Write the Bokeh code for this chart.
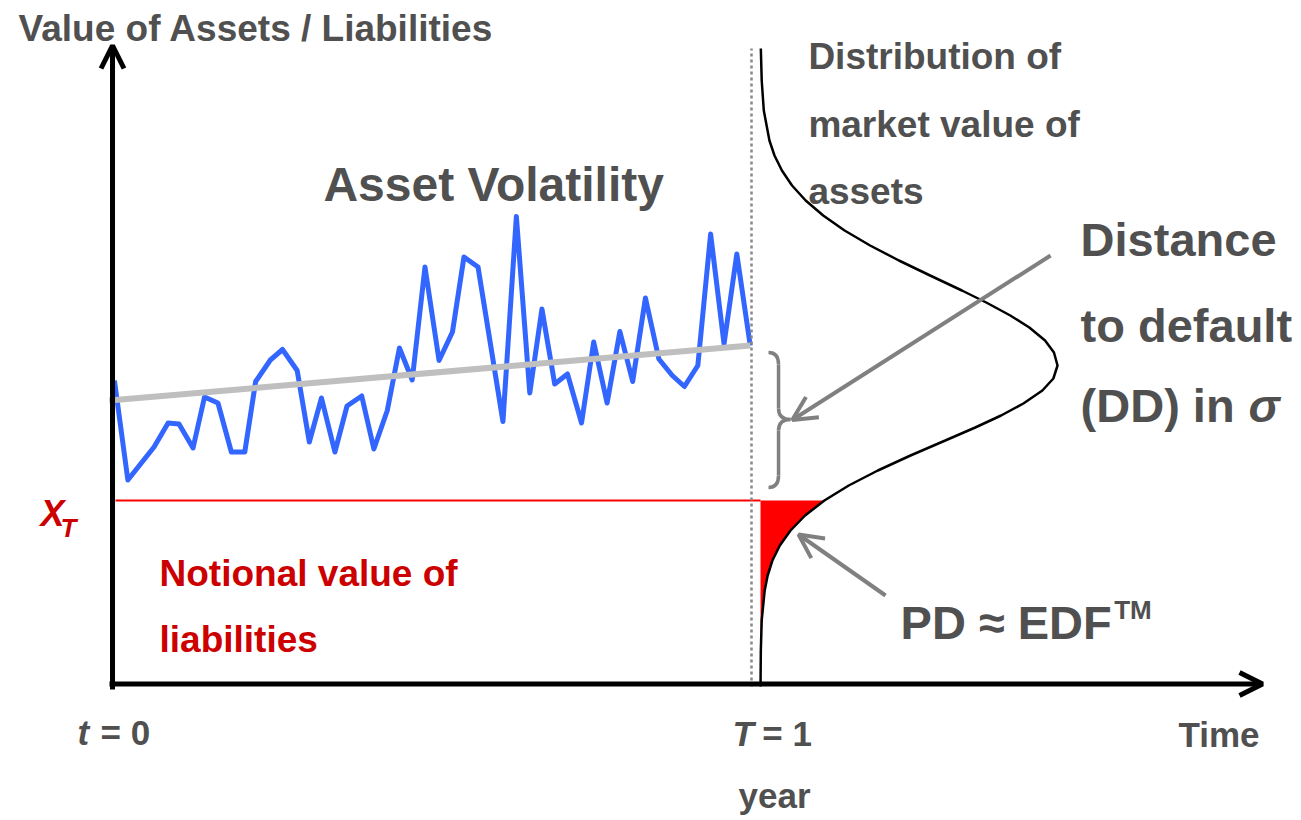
from bokeh.plotting import figure
from bokeh.models import Range1d, Arrow, OpenHead
from bokeh.core.properties import value
from bokeh.embed import file_html
from bokeh.resources import INLINE

# ---------------- data ----------------
# asset value path: time in years (0 .. T=1), value in arbitrary units
path_time = [0.003, 0.024, 0.065, 0.087, 0.104, 0.126, 0.144, 0.165, 0.186, 0.207,
             0.224, 0.247, 0.266, 0.289, 0.308, 0.327, 0.348, 0.367, 0.390, 0.409,
             0.430, 0.449, 0.469, 0.489, 0.511, 0.532, 0.550, 0.572, 0.611, 0.632,
             0.653, 0.672, 0.692, 0.712, 0.734, 0.753, 0.774, 0.794, 0.814, 0.834,
             0.855, 0.876, 0.895, 0.916, 0.936, 0.957, 0.977, 0.998]
path_value = [61.2, 41.3, 47.9, 52.7, 52.5, 47.7, 57.9, 56.7, 46.9, 46.9,
              61.0, 65.3, 67.4, 63.2, 48.9, 57.7, 46.9, 56.1, 58.1, 47.5,
              55.2, 67.7, 61.3, 83.9, 65.2, 70.9, 85.9, 83.9, 53.0, 94.0,
              58.7, 75.5, 60.5, 62.5, 52.7, 68.9, 56.7, 71.0, 61.0, 77.7,
              65.5, 62.2, 60.0, 64.2, 90.5, 68.5, 86.5, 68.2]

# trend of the asset value
trend_time = [-0.005, 0.998]
trend_value = [57.2, 68.2]

# default point (notional value of liabilities)
liability_value = 37.2
horizon = 1.0

# distribution of market value of assets at T (relative density)
dist_value = [127.6, 121.2, 115.2, 109.2, 106.2, 103.2, 100.2, 97.2, 94.2, 91.2,
              88.2, 85.2, 82.2, 79.2, 76.8, 74.2, 71.8, 69.2, 66.8, 64.2,
              61.6, 59.2, 56.6, 54.2, 51.8, 49.2, 46.2, 43.2, 40.2, 37.2,
              34.2, 31.2, 28.2, 25.2, 22.2, 19.2, 13.2, 7.2, 0.0]
dist_density = [0.001, 0.004, 0.011, 0.030, 0.047, 0.072, 0.106, 0.152, 0.211, 0.283,
                0.369, 0.466, 0.571, 0.678, 0.760, 0.841, 0.905, 0.958, 0.988, 1.000,
                0.986, 0.949, 0.885, 0.810, 0.723, 0.622, 0.505, 0.395, 0.297, 0.215,
                0.150, 0.101, 0.065, 0.040, 0.024, 0.014, 0.004, 0.001, 0.0]

# ---------------- styling constants ----------------
FONT = "Liberation Sans"
GREY_TXT = "#505050"
RED_TXT = "#cc0000"
DIST_BASE = 1.0141     # where the density curve starts (time units)
DIST_SCALE = 0.4648    # width of the density peak (time units)
PX_PER_UNIT_Y = 5.0    # vertical pixels per value unit
BASELINE_FIX = 0.38    # em fraction to lift texts onto their baseline

p = figure(width=1301, height=820, output_backend="svg", toolbar_location=None,
           x_range=Range1d(-0.1753, 1.8607), y_range=Range1d(-26.8, 137.2),
           x_axis_type=None, y_axis_type=None, min_border=0,
           background_fill_color="white", border_fill_color="white")
p.outline_line_color = None
p.grid.visible = False

# density curve and red tail (PD)
dist_x = [DIST_BASE + d * DIST_SCALE for d in dist_density]
tail_y = [v for v in dist_value if v <= liability_value]
tail_x = [x for x, v in zip(dist_x, dist_value) if v <= liability_value]
p.harea(y=tail_y, x1=[DIST_BASE] * len(tail_y), x2=tail_x, fill_color="#ff0000")
p.line(dist_x, dist_value, line_color="black", line_width=2.5)

# asset path, trend, liabilities
p.line(path_time, path_value, line_color="#3366ff", line_width=5, line_join="round")
p.line(trend_time, trend_value, line_color="#bfbfbf", line_width=6)
p.line([0.0047, DIST_BASE], [liability_value, liability_value], line_color="#ff0000", line_width=2)

# horizon dotted line
p.line([horizon, horizon], [0, 127.6], line_color="#888888", line_width=2.5, line_dash="3 3")

# brace for distance to default
bx0, bx1, bx2 = 1.0266, 1.0423, 1.0610
p.quadratic(x0=[bx0, bx1, bx2, bx1], y0=[66.8, 55.6, 53.4, 42.2],
            x1=[bx1, bx2, bx1, bx0], y1=[64.4, 53.4, 51.2, 39.8],
            cx=[bx1, bx1, bx1, bx1], cy=[66.8, 53.4, 53.4, 39.8],
            line_color="#808080", line_width=3.5)
p.segment(x0=[bx1, bx1], y0=[64.4, 51.2], x1=[bx1, bx1], y1=[55.6, 42.2],
          line_color="#808080", line_width=3.5)

# axes with arrow heads
p.add_layout(Arrow(end=OpenHead(size=23, line_width=5, line_color="black"),
                   x_start=0, y_start=-0.6, x_end=0, y_end=128.2,
                   line_width=5, line_color="black"))
p.add_layout(Arrow(end=OpenHead(size=23, line_width=5, line_color="black"),
                   x_start=-0.0047, y_start=0.5, x_end=1.7997, y_end=0.5,
                   line_width=5, line_color="black"))

# grey pointer arrows
p.add_layout(Arrow(end=OpenHead(size=24, line_width=4, line_color="#808080"),
                   x_start=1.468, y_start=86.2, x_end=1.0637, y_end=53.3,
                   line_width=4, line_color="#808080"))
p.add_layout(Arrow(end=OpenHead(size=24, line_width=4, line_color="#808080"),
                   x_start=1.2097, y_start=18.2, x_end=1.0736, y_end=30.4,
                   line_width=4, line_color="#808080"))


def txt(x, y, s, size, color=GREY_TXT, style="bold"):
    lift = BASELINE_FIX * size / PX_PER_UNIT_Y
    p.text(x=x, y=[v + lift for v in y], text=s, text_font=value(FONT),
           text_font_size=f"{size}px", text_font_style=style, text_color=color,
           text_align="left", text_baseline="alphabetic")


txt([-0.147], [128.8], ["Value of Assets / Liabilities"], 37)
txt([0.330], [96.8], ["Asset Volatility"], 48)
txt([1.089] * 3, [123.2, 109.6, 96.2], ["Distribution of", "market value of", "assets"], 37)
txt([1.515] * 3, [85.8, 68.6, 52.6], ["Distance", "to default", "(DD) in"], 47)
txt([1.7778], [52.6], ["σ"], 47, style="bold italic")
txt([1.2332], [9.2], ["PD ≈ EDF"], 47)
txt([1.5675], [13.4], ["TM"], 26)
txt([-0.1127], [31.8], ["X"], 36, color=RED_TXT, style="bold italic")
txt([-0.0814], [29.8], ["T"], 26, color=RED_TXT, style="bold italic")
txt([0.0736] * 2, [19.8, 6.6], ["Notional value of", "liabilities"], 37, color=RED_TXT)
txt([-0.0548], [-11.8], ["t"], 35, style="bold italic")
txt([-0.0188], [-11.8], ["= 0"], 35)
txt([0.9703], [-12.1], ["T"], 35, style="bold italic")
txt([1.0168], [-12.1], ["= 1"], 35)
txt([0.9797], [-24.4], ["year"], 35)
txt([1.6682], [-12.2], ["Time"], 35)

open("out.html", "w").write(file_html(p, INLINE))
